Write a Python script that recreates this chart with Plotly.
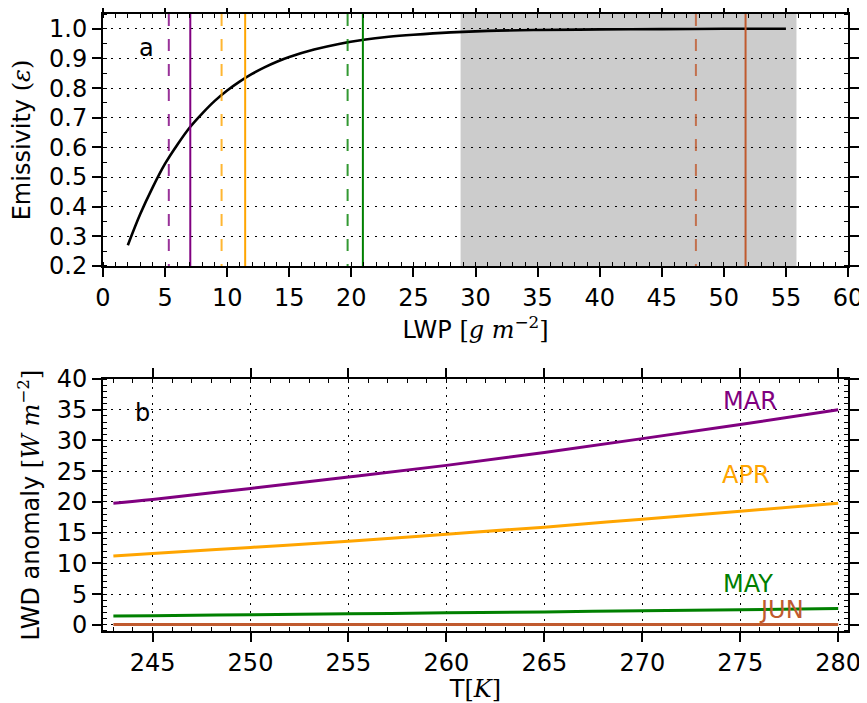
import plotly.graph_objects as go

# ---------------- data ----------------
lwp = [2, 3, 4, 5, 6, 7, 8, 9, 10, 11, 12, 13, 14, 15, 17, 19, 21, 23, 25, 28, 31, 35, 40, 45, 50, 55]
emissivity = [0.27, 0.375, 0.465, 0.545, 0.61, 0.668, 0.715, 0.757, 0.792, 0.822, 0.848, 0.870, 0.889, 0.905,
              0.930, 0.949, 0.963, 0.973, 0.980, 0.988, 0.993, 0.996, 0.998, 0.999, 1.0, 1.0]

months = ["MAR", "APR", "MAY", "JUN"]
month_colors = ["#800080", "#FFA500", "#008000", "#C05A2E"]
lwp_dashed = [5.3, 9.55, 19.7, 47.75]
lwp_solid = [7.03, 11.45, 20.93, 51.75]
shade_range = [28.8, 55.85]

temps = [243, 245, 250, 255, 260, 265, 270, 275, 280]
lwd_mar = [19.8, 20.4, 22.2, 24.05, 25.95, 28.05, 30.3, 32.6, 35.0]
lwd_apr = [11.2, 11.6, 12.6, 13.6, 14.75, 15.9, 17.2, 18.5, 19.8]
lwd_may = [1.45, 1.5, 1.65, 1.8, 1.95, 2.1, 2.3, 2.45, 2.65]
lwd_jun = [0.05, 0.05, 0.05, 0.05, 0.05, 0.05, 0.05, 0.05, 0.05]
lwd_all = [lwd_mar, lwd_apr, lwd_may, lwd_jun]
label_x = [275.5, 275.3, 275.4, 277.1]
label_y = [36.4, 24.4, 6.6, 2.4]

FONT = "DejaVu Sans, Liberation Sans, sans-serif"
FS = 24

fig = go.Figure()

fig.add_trace(go.Scatter(x=lwp, y=emissivity, mode="lines", line=dict(color="black", width=2.6, shape="spline"),
                         xaxis="x", yaxis="y", showlegend=False))

for c, xd, xs in zip(month_colors, lwp_dashed, lwp_solid):
    fig.add_trace(go.Scatter(x=[xd, xd], y=[1.05, 0.2], mode="lines", opacity=0.8,
                             line=dict(color=c, width=2, dash="12px,13px"), xaxis="x", yaxis="y", showlegend=False))
    fig.add_trace(go.Scatter(x=[xs, xs], y=[0.2, 1.05], mode="lines",
                             line=dict(color=c, width=2), xaxis="x", yaxis="y", showlegend=False))

for c, vals in zip(month_colors, lwd_all):
    fig.add_trace(go.Scatter(x=temps, y=vals, mode="lines", line=dict(color=c, width=3, shape="spline"),
                             xaxis="x2", yaxis="y2", showlegend=False))

for m, c, lx, ly in zip(months, month_colors, label_x, label_y):
    fig.add_annotation(x=lx, y=ly, xref="x2", yref="y2", text=m, showarrow=False,
                       font=dict(family=FONT, size=FS, color=c))

fig.add_shape(type="rect", xref="x", yref="y domain", x0=shade_range[0], x1=shade_range[1], y0=0, y1=1,
              fillcolor="#cccccc", line=dict(width=0), layer="below")

fig.add_annotation(x=0.045, y=0.93, xref="x domain", yref="y domain", text="a", showarrow=False,
                   font=dict(family=FONT, size=FS, color="black"))
fig.add_annotation(x=0.04, y=0.93, xref="x2 domain", yref="y2 domain", text="b", showarrow=False,
                   font=dict(family=FONT, size=FS, color="black"))

axis_common = dict(showline=True, linecolor="black", linewidth=2, mirror="allticks", automargin=False,
                   ticks="outside", ticklen=9, tickwidth=1.5, tickcolor="black",
                   tickfont=dict(family=FONT, size=FS, color="black"), zeroline=False,
                   gridcolor="black", griddash="2px,6px", gridwidth=1.2)
minor_common = dict(ticks="inside", ticklen=4, tickwidth=1.2, tickcolor="black", showgrid=False)
title_font = dict(family=FONT, size=FS, color="black")
SER = '<span style="font-family:DejaVu Serif">'

fig.update_layout(
    width=859, height=695,
    margin=dict(l=95, r=19, t=6, b=72),
    paper_bgcolor="white", plot_bgcolor="white",
    xaxis=dict(axis_common, domain=[0, 1], anchor="y", range=[0, 60], dtick=5, tick0=0, showgrid=False,
               minor=dict(minor_common, dtick=1),
               title=dict(text='LWP ' + SER + '[<i>g m</i><sup>−2</sup>]</span>', font=title_font, standoff=8)),
    yaxis=dict(axis_common, domain=[0.5916, 1], anchor="x", range=[0.2, 1.05], dtick=0.1, tick0=0.2,
               tickformat=".1f", showgrid=True,
               minor=dict(minor_common, dtick=0.05),
               title=dict(text='Emissivity ' + SER + '(<i>ε</i>)</span>', font=title_font, standoff=12)),
    xaxis2=dict(axis_common, domain=[0, 1], anchor="y2", range=[242.47, 280.5], dtick=5, tick0=245, showgrid=True,
                minor=dict(minor_common, dtick=1),
                title=dict(text='T' + SER + '[<i>K</i>]</span>', font=title_font, standoff=6)),
    yaxis2=dict(axis_common, domain=[0, 0.4084], anchor="x2", range=[-1, 40], dtick=5, tick0=0, showgrid=True,
                minor=dict(minor_common, dtick=1),
                title=dict(text='LWD anomaly ' + SER + '[<i>W m</i><sup>−2</sup>]</span>', font=title_font, standoff=10)),
)

fig.write_html("out.html")
